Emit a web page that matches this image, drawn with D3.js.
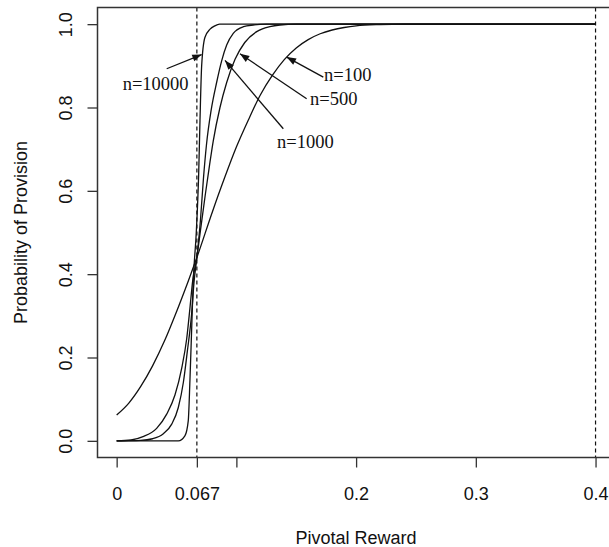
<!DOCTYPE html>
<html>
<head>
<meta charset="utf-8">
<script src="https://cdn.jsdelivr.net/npm/d3@7"></script>
<style>
  body { margin: 0; background: #fff; }
  svg { display: block; }
  .sans { font-family: "Liberation Sans", Arial, sans-serif; font-size: 18px; fill: #111; }
  .serif { font-family: "Liberation Serif", "Times New Roman", serif; font-size: 18.5px; fill: #111; }
</style>
</head>
<body>
<svg id="chart" width="609" height="547"></svg>
<script>
// curves: [pivotal reward, probability]
const n100 = [[0,0.062],[0.01,0.09],[0.02,0.13],[0.03,0.18],[0.04,0.24],[0.05,0.31],[0.06,0.385],
  [0.067,0.44],[0.08,0.55],[0.09,0.63],[0.1,0.705],[0.11,0.77],[0.12,0.83],[0.13,0.877],[0.14,0.915],
  [0.15,0.943],[0.16,0.963],[0.17,0.977],[0.18,0.986],[0.19,0.992],[0.2,0.996],[0.22,0.999],[0.24,1],[0.4,1]];
const n500 = [[0,0],[0.012,0.002],[0.022,0.01],[0.0334,0.03],[0.0418,0.064],[0.0487,0.11],
  [0.0543,0.174],[0.0585,0.245],[0.0612,0.318],[0.0635,0.384],[0.067,0.44],[0.070,0.505],[0.074,0.59],
  [0.0775,0.66],[0.0807,0.72],[0.0863,0.8],[0.0919,0.86],[0.0988,0.915],[0.107,0.956],[0.117,0.982],
  [0.128,0.994],[0.1364,0.998],[0.15,1],[0.4,1]];
const n1000 = [[0,0],[0.02,0.001],[0.03,0.005],[0.039,0.017],[0.046,0.04],[0.0515,0.08],[0.0557,0.14],
  [0.059,0.214],[0.0626,0.304],[0.0646,0.38],[0.067,0.44],[0.070,0.53],[0.0725,0.63],[0.075,0.71],
  [0.079,0.795],[0.0835,0.86],[0.0877,0.912],[0.0919,0.95],[0.0974,0.978],[0.106,0.994],[0.114,0.998],
  [0.125,1],[0.4,1]];
const n10000 = [[0,0],[0.0515,0],[0.057,0.012],[0.0598,0.048],[0.0612,0.144],[0.0626,0.264],[0.064,0.384],
  [0.0665,0.5],[0.0685,0.64],[0.0696,0.768],[0.071,0.9],[0.0737,0.968],[0.078,0.988],[0.082,0.996],
  [0.086,1],[0.4,1]];

const xTicks = [0, 0.067, 0.1, 0.2, 0.3, 0.4];
const xTickLabels = ["0", "0.067", "", "0.2", "0.3", "0.4"];
const yTicks = [0, 0.2, 0.4, 0.6, 0.8, 1.0];
const yTickLabels = ["0.0", "0.2", "0.4", "0.6", "0.8", "1.0"];
const vLines = [0.067, 0.4];

// labels and arrows: text start point, arrow tail, arrow tip
const labels = ["n=100", "n=500", "n=1000", "n=10000"];
const labelPos = [[0.1732, 0.8635], [0.1615, 0.806], [0.134, 0.702], [0.005, 0.841]];
const arrowTail = [[0.1726, 0.873], [0.1587, 0.821], [0.1392, 0.749], [0.0418, 0.893]];
const arrowTip = [[0.142, 0.921], [0.103, 0.929], [0.0905, 0.913], [0.071, 0.927]];

const svg = d3.select('#chart');
const boxL = 97.5, boxR = 614.7, boxT = 7.5, boxB = 457.5;

const x = d3.scaleLinear().domain([-0.016, 0.416]).range([boxL, boxR]);
const y = d3.scaleLinear().domain([-0.04, 1.04]).range([boxB, boxT]);

const plot = svg.append('g');

// dashed reference lines
plot.selectAll('line.ref')
    .data(vLines)
    .enter()
    .append('line')
    .attr('x1', d => x(d)).attr('x2', d => x(d))
    .attr('y1', boxT).attr('y2', boxB)
    .attr('stroke', '#111')
    .attr('stroke-width', 1.2)
    .attr('stroke-dasharray', '4,3');

const line = d3.line()
    .x(d => x(d[0]))
    .y(d => y(d[1]))
    .curve(d3.curveMonotoneX);

plot.selectAll('path.curve')
    .data([n100, n500, n1000, n10000])
    .enter()
    .append('path')
    .attr('d', line)
    .attr('fill', 'none')
    .attr('stroke', '#111')
    .attr('stroke-width', 1.3);

// box
svg.append('rect')
    .attr('x', boxL).attr('y', boxT)
    .attr('width', boxR - boxL).attr('height', boxB - boxT)
    .attr('fill', 'none')
    .attr('stroke', '#333')
    .attr('stroke-width', 1.5);

// x axis
const xAxis = d3.axisBottom(x)
    .tickValues(xTicks)
    .tickSize(10)
    .tickFormat((d, i) => xTickLabels[i]);
const gx = svg.append('g')
    .attr('transform', 'translate(0,' + boxB + ')')
    .call(xAxis);
gx.select('.domain').remove();
gx.selectAll('line').attr('stroke', '#333').attr('stroke-width', 1.3);
gx.selectAll('text')
    .attr('class', 'sans')
    .attr('y', 42)
    .attr('dy', 0);

// y axis
const yAxis = d3.axisLeft(y)
    .tickValues(yTicks)
    .tickSize(10)
    .tickFormat((d, i) => yTickLabels[i]);
const gy = svg.append('g')
    .attr('transform', 'translate(' + boxL + ',0)')
    .call(yAxis);
gy.select('.domain').remove();
gy.selectAll('line').attr('stroke', '#333').attr('stroke-width', 1.3);
gy.selectAll('text')
    .attr('class', 'sans')
    .attr('x', 0).attr('dy', 0)
    .attr('text-anchor', 'middle')
    .attr('transform', 'translate(-26,0) rotate(-90)');

// axis titles
svg.append('text')
    .attr('class', 'sans')
    .attr('x', (boxL + boxR) / 2)
    .attr('y', 544)
    .attr('text-anchor', 'middle')
    .text('Pivotal Reward');

svg.append('text')
    .attr('class', 'sans')
    .attr('text-anchor', 'middle')
    .attr('transform', 'translate(27,' + ((boxT + boxB) / 2) + ') rotate(-90)')
    .text('Probability of Provision');

// arrows
function arrowHead(tail, tip) {
    const x0 = x(tail[0]), y0 = y(tail[1]);
    const x1 = x(tip[0]), y1 = y(tip[1]);
    const a = Math.atan2(y1 - y0, x1 - x0);
    const len = 10, spread = 0.36;
    const p1 = [x1 - len * Math.cos(a - spread), y1 - len * Math.sin(a - spread)];
    const p2 = [x1 - len * Math.cos(a + spread), y1 - len * Math.sin(a + spread)];
    return 'M' + x1 + ',' + y1 + 'L' + p1 + 'L' + p2 + 'Z';
}

const ann = svg.append('g');
ann.selectAll('line.arrow')
    .data(labels)
    .enter()
    .append('line')
    .attr('x1', (d, i) => x(arrowTail[i][0]))
    .attr('y1', (d, i) => y(arrowTail[i][1]))
    .attr('x2', (d, i) => x(arrowTip[i][0]))
    .attr('y2', (d, i) => y(arrowTip[i][1]))
    .attr('stroke', '#111')
    .attr('stroke-width', 1.3);

ann.selectAll('path.head')
    .data(labels)
    .enter()
    .append('path')
    .attr('d', (d, i) => arrowHead(arrowTail[i], arrowTip[i]))
    .attr('fill', '#111');

ann.selectAll('text.lab')
    .data(labels)
    .enter()
    .append('text')
    .attr('class', 'serif')
    .attr('x', (d, i) => x(labelPos[i][0]))
    .attr('y', (d, i) => y(labelPos[i][1]))
    .text(d => d);
</script>
</body>
</html>
